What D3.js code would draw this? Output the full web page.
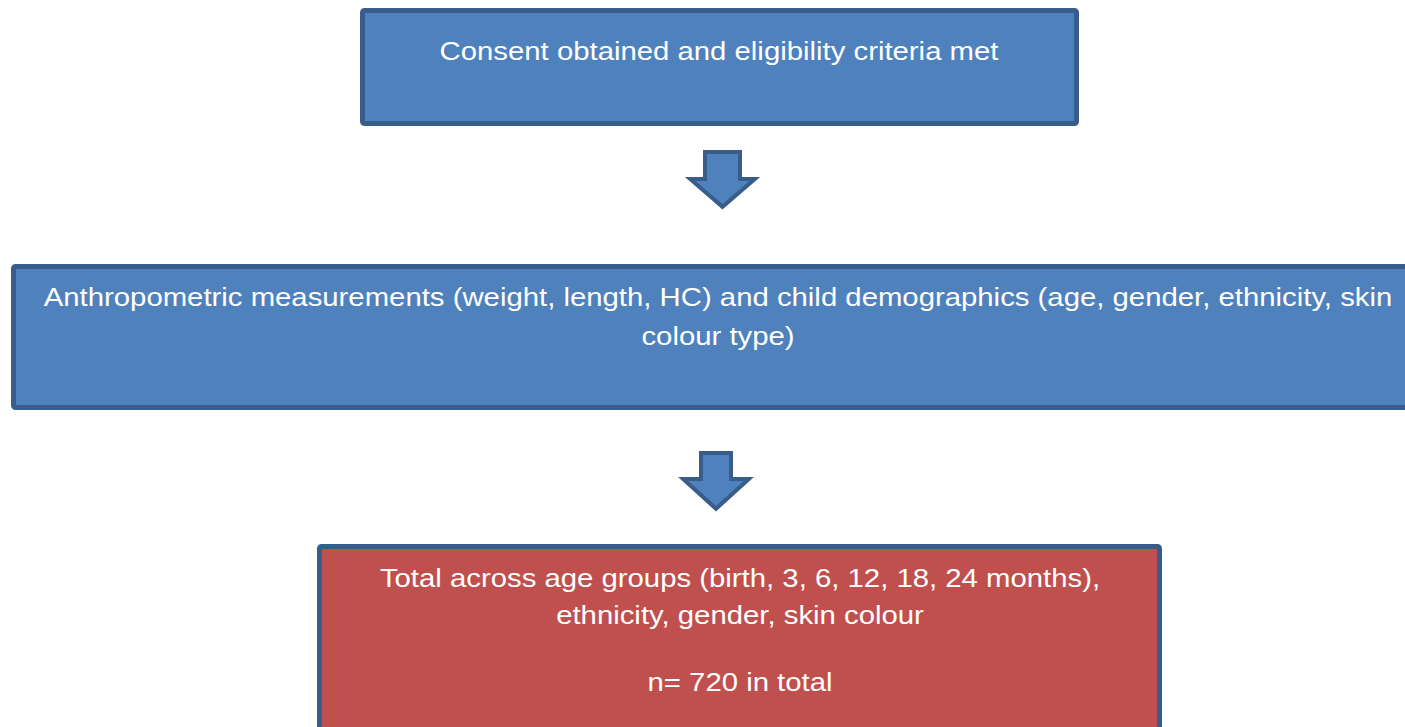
<!DOCTYPE html>
<html>
<head>
<meta charset="utf-8">
<script src="https://cdn.jsdelivr.net/npm/d3@7"></script>
<style>
  body { margin: 0; background: #fff; }
  svg { display: block; }
  .label { font-family: "Liberation Sans", Arial, sans-serif; font-size: 25.5px; fill: #fff; }
</style>
</head>
<body>
<svg id="flow" width="1405" height="727"></svg>
<script>
// text of each step in the flow (one array per line)
const consentLines = ["Consent obtained and eligibility criteria met"];
const measureLines = [
  "Anthropometric measurements (weight, length, HC) and child demographics (age, gender, ethnicity, skin",
  "colour type)"
];
const totalLines = [
  "Total across age groups (birth, 3, 6, 12, 18, 24 months),",
  "ethnicity, gender, skin colour",
  "n= 720 in total"
];

const svg = d3.select("svg#flow");
const blue = "#4f81bd", red = "#c0504d", edge = "#385d8a";

// layout of boxes (outer edges)
const boxes = [
  { lines: consentLines, x0: 360, y0: 8, x1: 1079, y1: 126, fill: blue, cx: 719, baselines: [60] },
  { lines: measureLines, x0: 11, y0: 264, x1: 1430, y1: 410, fill: blue, cx: 718, baselines: [306, 345] },
  { lines: totalLines, x0: 317, y0: 544, x1: 1162, y1: 760, fill: red, cx: 740, baselines: [587, 624, 691] }
];
const sw = 5;

const g = svg.append("g");

g.selectAll("rect.box")
  .data(boxes)
  .enter()
  .append("rect")
  .attr("class", "box")
  .attr("x", d => d.x0 + sw / 2)
  .attr("y", d => d.y0 + sw / 2)
  .attr("width", d => d.x1 - d.x0 - sw)
  .attr("height", d => d.y1 - d.y0 - sw)
  .attr("rx", 2)
  .attr("fill", d => d.fill)
  .attr("stroke", edge)
  .attr("stroke-width", sw);

// text, stretched horizontally like the source document
boxes.forEach((b, i) => {
  g.selectAll("text.l" + i)
    .data(b.lines)
    .enter()
    .append("text")
    .attr("class", "label l" + i)
    .attr("text-anchor", "middle")
    .attr("transform", (d, j) => `translate(${b.cx},${b.baselines[j]}) scale(1.15,1)`)
    .text(d => d);
});

// down arrows between steps
const arrows = [
  { cx: 722.5, top: 150, neck: 177, tip: 210, shaft: 19.5, head: 35.5 },
  { cx: 716, top: 451, neck: 477, tip: 512, shaft: 17, head: 36 }
];
const aw = 4;
const arrowPath = a => {
  const i = aw / 2;
  const s = a.shaft - i, h = a.head - i * 1.6;
  return d3.line()([
    [a.cx - s, a.top + i], [a.cx + s, a.top + i], [a.cx + s, a.neck + i],
    [a.cx + h, a.neck + i], [a.cx, a.tip - i * 1.6], [a.cx - h, a.neck + i],
    [a.cx - s, a.neck + i]
  ]) + "Z";
};
g.selectAll("path.arrow")
  .data(arrows)
  .enter()
  .append("path")
  .attr("class", "arrow")
  .attr("d", arrowPath)
  .attr("fill", blue)
  .attr("stroke", edge)
  .attr("stroke-width", aw)
  .attr("stroke-linejoin", "miter");
</script>
</body>
</html>
